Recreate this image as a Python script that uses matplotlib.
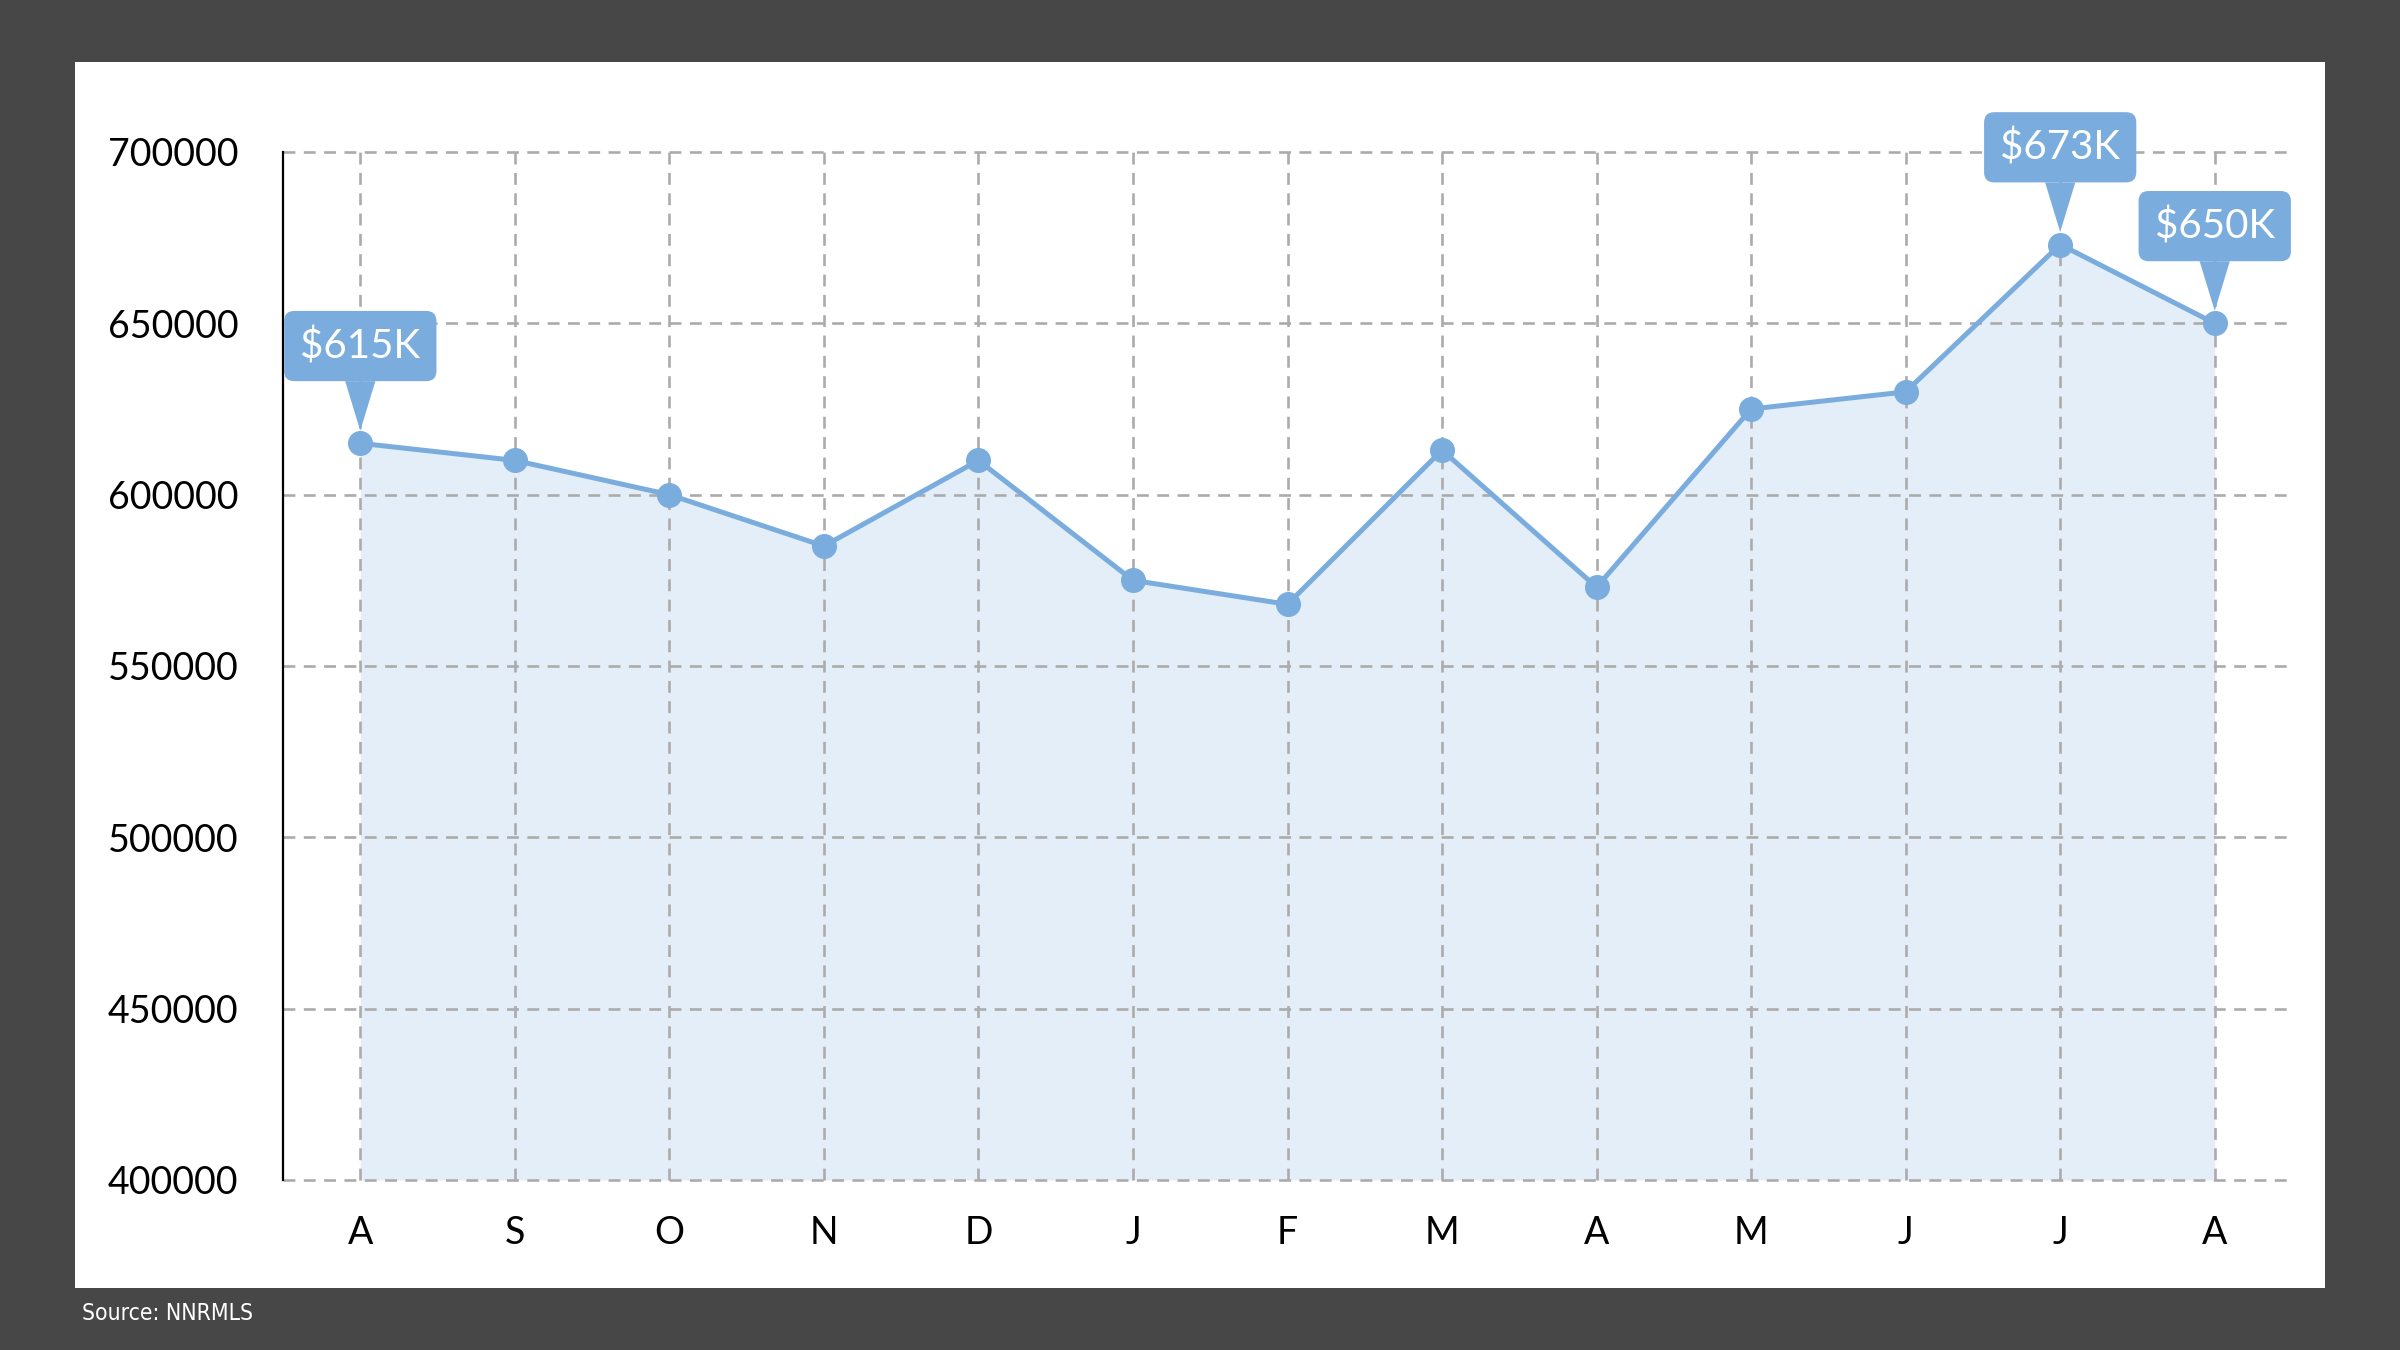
import matplotlib
matplotlib.use("Agg")
import matplotlib.pyplot as plt
from matplotlib.patches import Rectangle
from matplotlib import font_manager

plt.rcParams['font.family'] = ['Lato', 'DejaVu Sans']

months = ["A", "S", "O", "N", "D", "J", "F", "M", "A", "M", "J", "J", "A"]
prices = [615000, 610000, 600000, 585000, 610000, 575000, 568000,
          613000, 573000, 625000, 630000, 673000, 650000]
callout_idx = [0, 11, 12]
callout_text = ["$615K", "$673K", "$650K"]
yticks = [400000, 450000, 500000, 550000, 600000, 650000, 700000]

blue = "#7aaddd"
fill_blue = "#e3eef8"
grid_grey = "#ababab"

# narrow font for the source note, if one is around
narrow = None
for f in sorted(font_manager.findSystemFonts()):
    name = f.lower()
    if ("narrow" in name or "condensed" in name) and "bold" not in name \
            and "oblique" not in name and "italic" not in name:
        narrow = f
        break

fig = plt.figure(figsize=(24, 13.5), dpi=100)
fig.patch.set_facecolor("#474747")

# white card behind the chart
fig.patches.append(Rectangle((75 / 2400, 1 - 1288 / 1350), 2250 / 2400, 1226 / 1350,
                             transform=fig.transFigure, facecolor="white",
                             edgecolor="none", zorder=-10))

ax = fig.add_axes([283 / 2400, 1 - 1180 / 1350, (2292 - 283) / 2400, (1180 - 152) / 1350])
ax.set_facecolor("none")
ax.set_zorder(1)

x = list(range(len(months)))
ax.fill_between(x, prices, 400000, color=fill_blue, linewidth=0, zorder=1)
ax.plot(x, prices, color=blue, linewidth=3.6, marker="o", markersize=17, zorder=3,
        clip_on=False)

ax.set_xlim(-0.5, 12.5)
ax.set_ylim(400000, 700000)
ax.set_xticks(x)
ax.set_xticklabels(months)
ax.set_yticks(yticks)
ax.set_yticklabels([str(v) for v in yticks])
ax.tick_params(axis="both", length=0, labelsize=27, colors="black")
ax.tick_params(axis="y", pad=32)
ax.tick_params(axis="x", pad=25)

ax.set_axisbelow("line")
ax.grid(True, color=grid_grey, linestyle=(0, (4.5, 3.2)), linewidth=1.9)
for gl in ax.get_ygridlines() + ax.get_xgridlines():
    gl.set_clip_on(False)

for side in ["top", "right", "bottom"]:
    ax.spines[side].set_visible(False)
ax.spines["left"].set_linewidth(1.6)
ax.spines["left"].set_color("black")

for i, txt in zip(callout_idx, callout_text):
    ax.annotate(txt, xy=(x[i], prices[i]), xytext=(0, 70), textcoords="offset points",
                ha="center", va="center", fontsize=29, color="white", zorder=5,
                bbox=dict(boxstyle="round,pad=0.4,rounding_size=0.25", fc=blue, ec="none"),
                arrowprops=dict(arrowstyle="wedge,tail_width=0.75,shrink_factor=0.5",
                                fc=blue, ec="none", relpos=(0.5, 0.0),
                                shrinkA=0, shrinkB=9))

if narrow:
    src_font = font_manager.FontProperties(fname=narrow, size=16.5)
else:
    src_font = font_manager.FontProperties(family="DejaVu Sans", size=14)
fig.text(82 / 2400, 1 - 1313 / 1350, "Source: NNRMLS", color="white",
         va="center", ha="left", fontproperties=src_font)

fig.savefig("out.png", dpi=100, facecolor=fig.get_facecolor())
